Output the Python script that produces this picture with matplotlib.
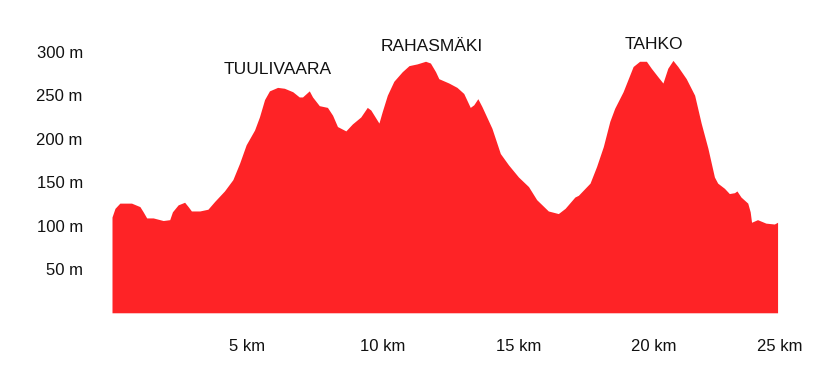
"""
Elevation profile of the route (TUULIVAARA - RAHASMÄKI - TAHKO).
Saved as out.png, 829x382 px.
"""

import matplotlib.pyplot as plt
import matplotlib as mpl

mpl.rcParams.update({
    "font.family": ["Liberation Sans", "DejaVu Sans"],
    "font.size": 12,
})

COLOR_FILL = "#fe2326"

# ---------- Data ----------
distance_km = [
    0.0, 0.11, 0.29, 0.72, 1.03, 1.15, 1.28, 1.52, 1.89, 2.13, 2.23, 2.44,
    2.68, 2.81, 2.93, 3.24, 3.54, 3.79, 4.15, 4.46, 4.71, 4.95, 5.26, 5.44,
    5.63, 5.81, 6.11, 6.36, 6.67, 6.91, 7.03, 7.28, 7.40, 7.65, 7.95, 8.14,
    8.32, 8.63, 8.87, 9.18, 9.42, 9.55, 9.73, 9.85, 9.97, 10.16, 10.40,
    10.71, 10.96, 11.26, 11.57, 11.75, 11.94, 12.06, 12.43, 12.73, 12.98,
    13.22, 13.35, 13.50, 13.65, 14.02, 14.33, 14.63, 15.0, 15.37, 15.67,
    16.10, 16.47, 16.72, 17.08, 17.21, 17.64, 17.88, 18.13, 18.37, 18.55,
    18.86, 19.23, 19.47, 19.72, 19.90, 20.15, 20.33, 20.51, 20.70, 20.88,
    21.19, 21.50, 21.74, 21.99, 22.23, 22.35, 22.60, 22.78, 22.97, 23.06,
    23.21, 23.46, 23.55, 23.60, 23.82, 24.13, 24.44, 24.56,
]
elevation_m = [
    110, 120, 126, 126, 122, 116, 109, 109, 106, 107, 116, 124,
    127, 122, 117, 117, 119, 128, 140, 153, 172, 193, 210, 225,
    245, 255, 259, 258, 254, 248, 248, 255, 248, 238, 236, 227,
    214, 209, 217, 225, 236, 233, 224, 218, 231, 250, 266,
    277, 284, 286, 289, 287, 277, 269, 264, 259, 252,
    236, 239, 246, 237, 212, 183, 170, 156, 145, 130,
    117, 114, 120, 133, 135, 149, 168, 191, 220, 235,
    254, 283, 289, 289, 281, 271, 264, 281, 290, 283,
    269, 250, 218, 189, 156, 149, 143, 137, 138, 140,
    133, 126, 116, 104, 107, 103, 102, 104,
]

# Summit labels: name, distance (km), height of the label (m)
peak_names = ["TUULIVAARA", "RAHASMÄKI", "TAHKO"]
peak_km = [6.1, 11.8, 20.0]
peak_label_m = [280, 306, 308]

y_ticks = [50, 100, 150, 200, 250, 300]
y_labels = ["50 m", "100 m", "150 m", "200 m", "250 m", "300 m"]
x_ticks = [5, 10, 15, 20, 24.65]  # last label sits at the route end
x_labels = ["5 km", "10 km", "15 km", "20 km", "25 km"]


def main():
    fig = plt.figure(figsize=(8.29, 3.82), dpi=100)
    ax = fig.add_axes([0.1351, 0.1812, 0.8058, 0.7290])

    ax.fill_between(distance_km, elevation_m, 0, color=COLOR_FILL, lw=0)

    for name, km, m in zip(peak_names, peak_km, peak_label_m):
        ax.text(km, m, name, ha="center", va="center", fontsize=12.5,
                color="#111111")

    ax.set_xlim(distance_km[0], distance_km[-1])
    ax.set_ylim(0, 320)
    ax.set_yticks(y_ticks)
    ax.set_yticklabels(y_labels)
    ax.set_xticks(x_ticks)
    ax.set_xticklabels(x_labels)
    ax.tick_params(axis="y", length=0, pad=21, labelsize=12, colors="#111111")
    ax.tick_params(axis="x", length=0, pad=19, labelsize=12, colors="#111111")
    for side in ax.spines.values():
        side.set_visible(False)

    fig.savefig("out.png", dpi=100)
    plt.close(fig)


if __name__ == "__main__":
    main()
